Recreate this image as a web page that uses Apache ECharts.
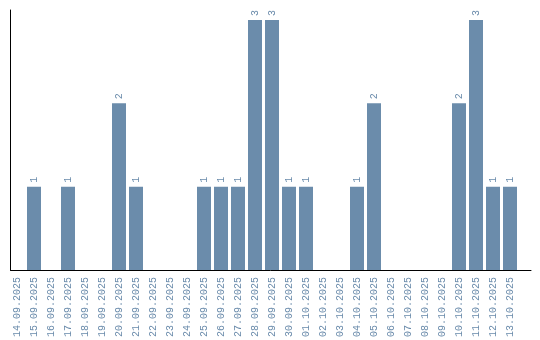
<!DOCTYPE html>
<html>
<head>
<meta charset="utf-8">
<script src="https://cdn.jsdelivr.net/npm/echarts@6/dist/echarts.min.js"></script>
<style>html,body{margin:0;padding:0;background:#fff}#c{width:540px;height:340px}</style>
</head>
<body>
<div id="c"></div>
<script>
const categories = ["14.09.2025","15.09.2025","16.09.2025","17.09.2025","18.09.2025","19.09.2025","20.09.2025","21.09.2025","22.09.2025","23.09.2025","24.09.2025","25.09.2025","26.09.2025","27.09.2025","28.09.2025","29.09.2025","30.09.2025","01.10.2025","02.10.2025","03.10.2025","04.10.2025","05.10.2025","06.10.2025","07.10.2025","08.10.2025","09.10.2025","10.10.2025","11.10.2025","12.10.2025","13.10.2025"];
const counts = [0,1,0,1,0,0,2,1,0,0,0,1,1,1,3,3,1,1,0,0,1,2,0,0,0,0,2,3,1,1];

const barColor = '#6b8cab';
const textColor = '#6a8bab';
const font = 'Liberation Mono';

const chart = echarts.init(document.getElementById('c'), null, {renderer: 'canvas'});
chart.setOption({
  animation: false,
  grid: [
    {left: 8.5, width: 510, top: 20, bottom: 70},
    {left: 10.5, right: 9, top: 10, bottom: 70}
  ],
  xAxis: [
    {
      type: 'category', gridIndex: 0, data: categories,
      axisLine: {show: false}, axisTick: {show: false},
      axisLabel: {rotate: 90, interval: 0, margin: 7, color: textColor, fontFamily: font, fontSize: 10}
    },
    {
      type: 'value', gridIndex: 1, min: 0, max: 1,
      axisLine: {show: true, onZero: false, lineStyle: {color: '#000', width: 1}},
      axisTick: {show: false}, axisLabel: {show: false}, splitLine: {show: false}
    }
  ],
  yAxis: [
    {
      type: 'value', gridIndex: 0, min: 0, max: 3,
      axisLine: {show: false}, axisTick: {show: false}, axisLabel: {show: false}, splitLine: {show: false}
    },
    {
      type: 'value', gridIndex: 1, min: 0, max: 1,
      axisLine: {show: true, lineStyle: {color: '#000', width: 1}},
      axisTick: {show: false}, axisLabel: {show: false}, splitLine: {show: false}
    }
  ],
  series: [{
    type: 'bar', xAxisIndex: 0, yAxisIndex: 0,
    data: counts,
    barWidth: 14,
    itemStyle: {color: barColor},
    label: {
      show: true, position: 'top', rotate: 90, align: 'left', verticalAlign: 'middle',
      distance: 4, color: textColor, fontFamily: font, fontSize: 10,
      formatter: p => p.value ? String(p.value) : ''
    }
  }]
});
</script>
</body>
</html>
